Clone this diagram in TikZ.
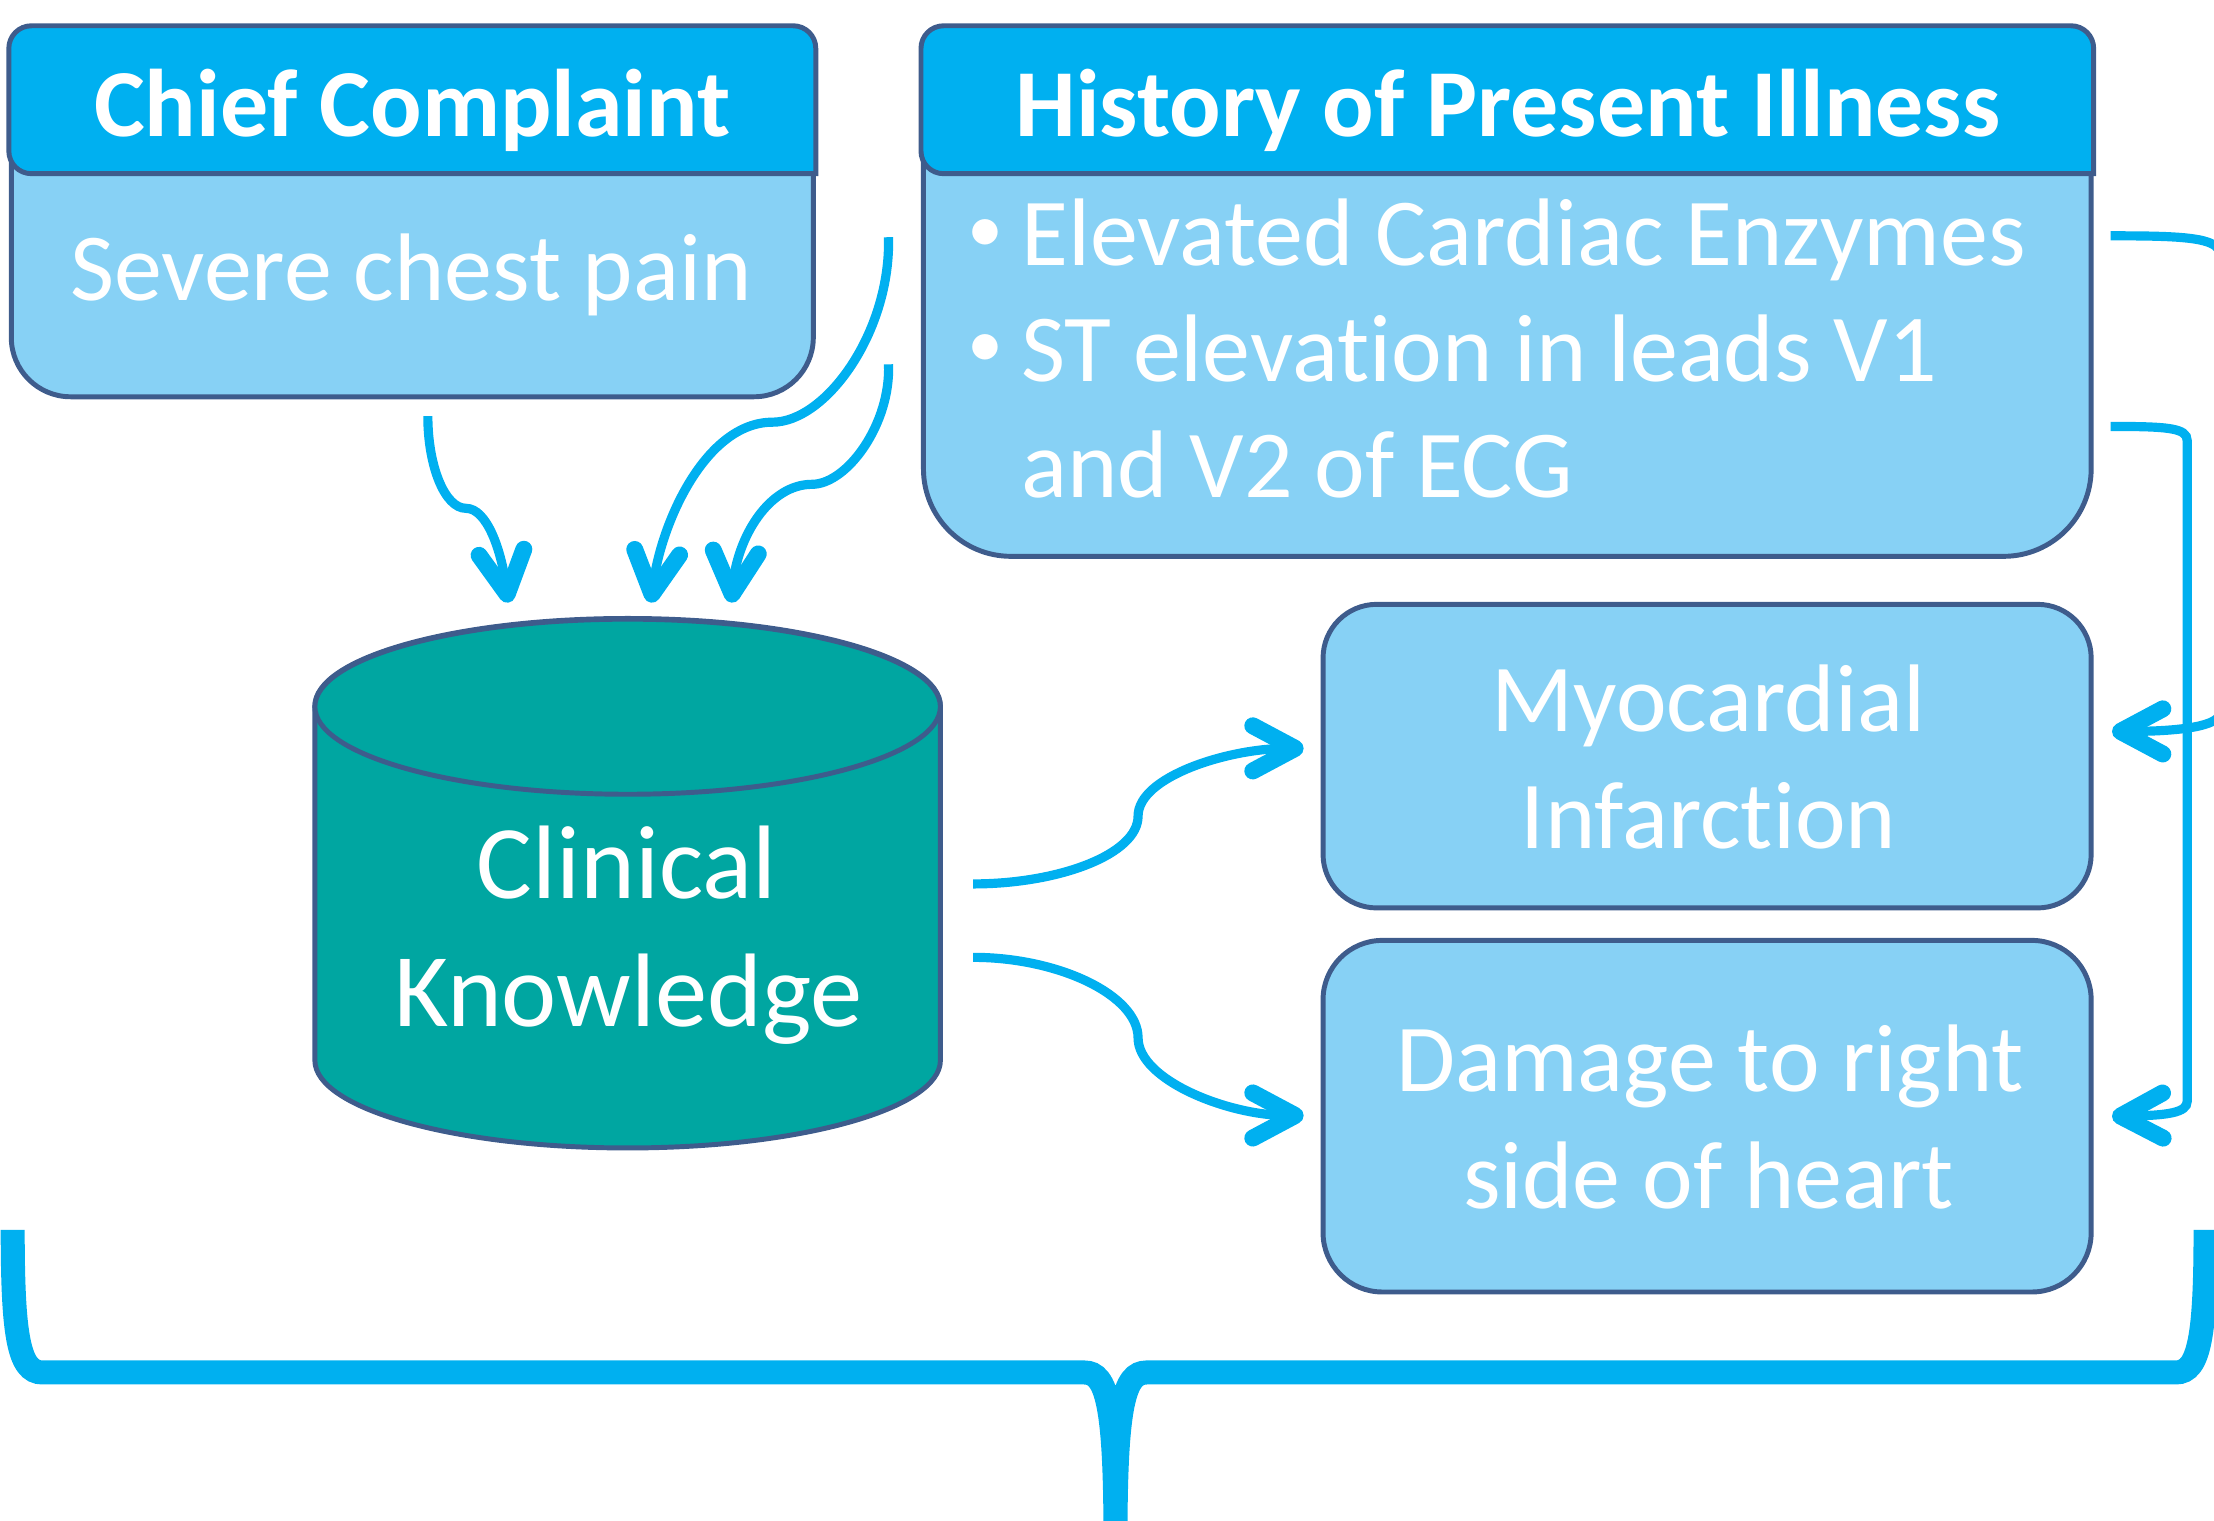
\documentclass[tikz,border=0pt]{standalone}
\usepackage{fontspec}
\setmainfont{Carlito}[Ligatures=NoCommon]
\usetikzlibrary{arrows.meta}
\definecolor{flowblue}{RGB}{0,176,240}
\definecolor{paleblue}{RGB}{135,209,245}
\definecolor{edgeblue}{RGB}{62,92,140}
\definecolor{kteal}{RGB}{0,166,161}
\tikzset{
  boxbody/.style={draw=edgeblue, fill=paleblue, line width=3.5pt, inner sep=0pt},
  boxhead/.style={draw=edgeblue, fill=flowblue, line width=3.5pt},
  txt/.style={text=white, inner sep=0pt, anchor=base, font=\fontsize{68}{80}\selectfont},
  hdtxt/.style={txt, font=\fontsize{68}{80}\selectfont\bfseries},
  dottxt/.style={txt, font=\fontsize{51}{60}\selectfont},
  bigtxt/.style={txt, font=\fontsize{74}{86}\selectfont},
  flow/.style={draw=flowblue, line width=6.5pt, -{Straight Barb[length=30pt,width=32pt,line width=12pt,round]}},
}

\begin{document}
\begin{tikzpicture}[x=1pt,y=-1pt]
\useasboundingbox (0,0) rectangle (1568,1077);

\node (cc) [boxbody, rounded corners=42pt, minimum width=568pt, minimum height=261pt] at (292,150.5) {};
\filldraw[boxhead] (cc.east |- 0,123) [rounded corners=16pt] |- (cc.north) -| (cc.west |- 0,123) [sharp corners] -- cycle;
\node (cch) [hdtxt] at (292,97) {Chief Complaint};
\node (cct) [txt] at (291,213) {Severe chest pain};

\node (hpi) [boxbody, rounded corners=62pt, minimum width=827pt, minimum height=374pt] at (1067.5,207) {};
\filldraw[boxhead] (hpi.east |- 0,123) [rounded corners=16pt] |- (hpi.north) -| (hpi.west |- 0,123) [sharp corners] -- cycle;
\node (hpih) [hdtxt] at (1068,97) {History of Present Illness};
\node (b1) [dottxt] at (698,178.5) {\textbullet};
\node (h1) [txt, anchor=base west] at (723,188) {Elevated Cardiac Enzymes};
\node (b2) [dottxt] at (698,260.5) {\textbullet};
\node (h2) [txt, anchor=base west] at (723,270) {ST elevation in leads V1};
\node (h3) [txt, anchor=base west] at (723,352) {and V2 of ECG};

\node (ck) [inner sep=0pt, minimum width=443pt, minimum height=375pt] at (444.5,625.5) {};
\filldraw[draw=edgeblue, fill=kteal, line width=3.5pt] (223,500) -- (223,751)
    arc[start angle=180, end angle=360, x radius=221.5pt, y radius=62pt] -- (666,500)
    arc[start angle=0, end angle=180, x radius=221.5pt, y radius=62pt] -- cycle;
\filldraw[draw=edgeblue, fill=kteal, line width=3.5pt] (444.5,500.5) ellipse [x radius=221.5pt, y radius=62pt];
\node (ck1) [bigtxt] at (444,636) {Clinical};
\node (ck2) [bigtxt] at (445,727) {Knowledge};

\node (mi) [boxbody, rounded corners=38pt, minimum width=544pt, minimum height=215pt] at (1209,535.5) {};
\node (mi1) [txt] at (1210,518) {Myocardial};
\node (mi2) [txt] at (1210,601) {Infarction};
\node (dr) [boxbody, rounded corners=42pt, minimum width=544pt, minimum height=249pt] at (1209,790.5) {};
\node (dr1) [txt] at (1211,773) {Damage to right};
\node (dr2) [txt] at (1210,856) {side of heart};

\path (cc.south) +(11,12) coordinate (cco) {};
\path (hpi.west) +(-23,-39) coordinate (hs1) {} +(-23,51) coordinate (hs2) {};
\path (ck.north) +(-84.5,-11) coordinate (ki1) {} +(16.5,-11) coordinate (ki2) {} +(73.5,-11) coordinate (ki3) {};
\draw[flow] (cco) .. controls (303,330) and (315,360) .. (330,360) .. controls (345,360) and (355,390) .. (ki1);
\draw[flow] (hs1) .. controls (631,235) and (585,299) .. (547,299) .. controls (500,299) and (468,370) .. (ki2);
\draw[flow] (hs2) .. controls (631,300) and (600,343) .. (575,343) .. controls (545,343) and (522,380) .. (ki3);

\path (hpi.east) +(12,-40) coordinate (hr1) {} +(12,95) coordinate (hr2) {};
\path (mi.east) +(13,-17.5) coordinate (mir) {};
\path (dr.east) +(13,0) coordinate (drr) {};
\draw[flow] (hr1) .. controls (1545,167) and (1572,168) .. (1572,180) -- (1572,505) .. controls (1572,514) and (1545,518) .. (mir);
\draw[flow] (hr2) .. controls (1535,302) and (1549,303) .. (1549,312) -- (1549,780) .. controls (1549,788) and (1535,790) .. (drr);

\path (ck.east) +(23,0.5) coordinate (ko1) {} +(23,52.5) coordinate (ko2) {};
\path (mi.west) +(-12,-5.5) coordinate (mil) {};
\path (dr.west) +(-12,-0.5) coordinate (drl) {};
\draw[flow] (ko1) .. controls (750,626) and (806,605) .. (806,578) .. controls (806,550) and (870,530) .. (mil);
\draw[flow] (ko2) .. controls (750,678) and (806,705) .. (806,735) .. controls (806,765) and (870,790) .. (drl);

\draw[flowblue, line width=17pt] (9,871) .. controls (9,945) and (13,972) .. (30,972) -- (768,972) .. controls (784,972) and (790,995) .. (790,1090)
    (1562,871) .. controls (1562,945) and (1558,972) .. (1541,972) -- (812,972) .. controls (796,972) and (790,995) .. (790,1090);
\end{tikzpicture}
\end{document}
